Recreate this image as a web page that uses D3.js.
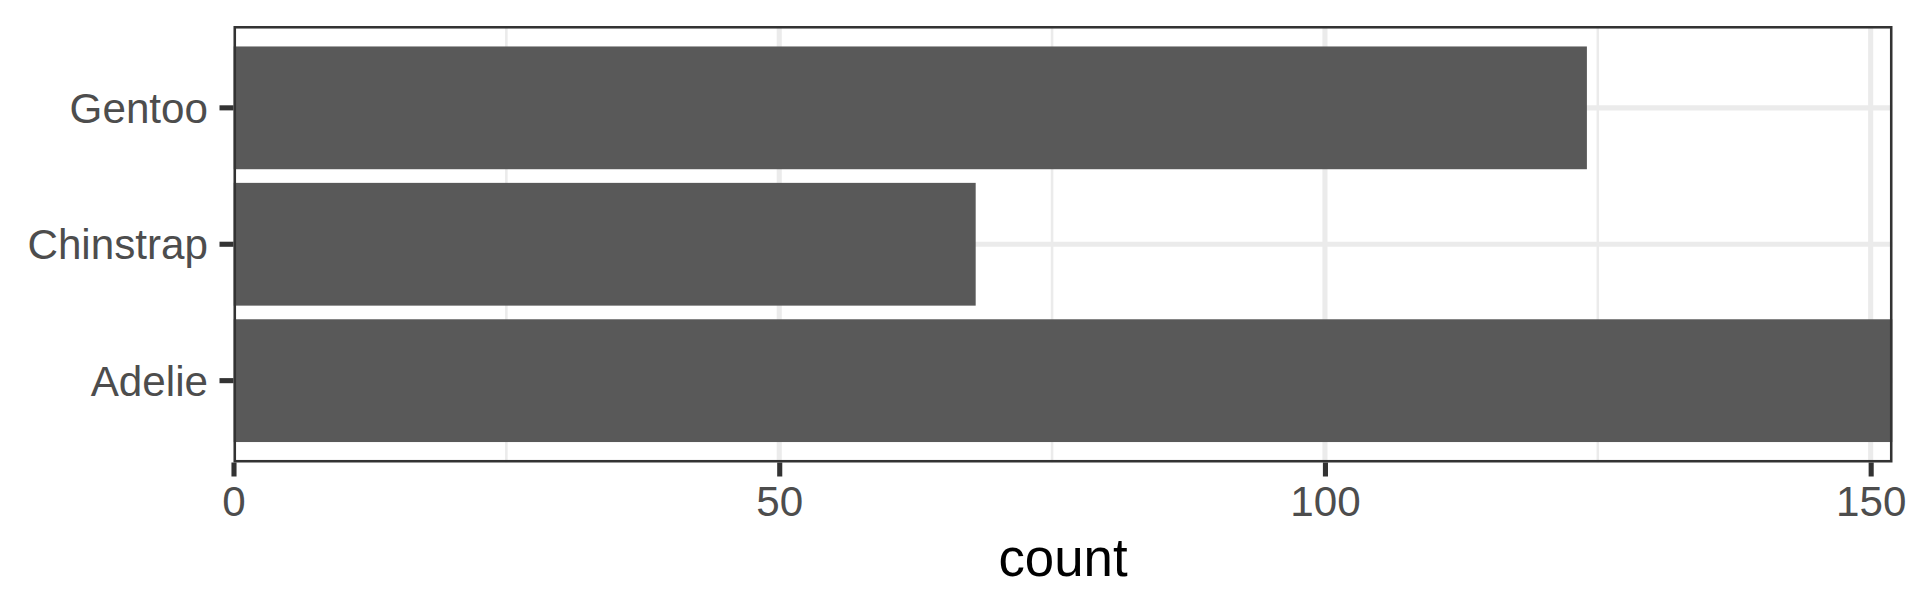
<!DOCTYPE html>
<html>
<head>
<meta charset="utf-8">
<script src="https://cdn.jsdelivr.net/npm/d3@7"></script>
<style>
  html, body { margin: 0; padding: 0; background: #fff; }
  svg { display: block; font-family: "Liberation Sans", Arial, sans-serif; }
</style>
</head>
<body>
<svg id="chart" width="1920" height="614"></svg>
<script>
const species = ["Adelie", "Chinstrap", "Gentoo"];
const counts = [152, 68, 124];
const majorTicks = [0, 50, 100, 150];
const minorTicks = [25, 75, 125];
const xTitle = "count";

const W = 1920, H = 614;
const panel = { left: 233.5, right: 1892.5, top: 26, bottom: 462.5 };
const lw = 5.1;

const svg = d3.select("#chart");
svg.append("rect").attr("width", W).attr("height", H).attr("fill", "#fff");

const x = d3.scaleLinear().domain([0, 152]).range([panel.left, panel.right]);
const y = d3.scaleBand().domain(species).range([panel.bottom, panel.top])
  .paddingInner(0.1).paddingOuter(0.15);

const data = species.map((s, i) => ({ s, v: counts[i] }));

svg.append("defs").append("clipPath").attr("id", "pclip")
  .append("rect").attr("x", panel.left).attr("y", panel.top)
  .attr("width", panel.right - panel.left).attr("height", panel.bottom - panel.top);

const g = svg.append("g").attr("clip-path", "url(#pclip)");
g.append("rect").attr("x", panel.left).attr("y", panel.top)
  .attr("width", panel.right - panel.left).attr("height", panel.bottom - panel.top)
  .attr("fill", "#fff");

// minor vertical grid
g.selectAll(".minor").data(minorTicks).enter().append("line")
  .attr("x1", d => x(d)).attr("x2", d => x(d))
  .attr("y1", panel.top).attr("y2", panel.bottom)
  .attr("stroke", "#EBEBEB").attr("stroke-width", lw / 2);
// major vertical grid
g.selectAll(".majorx").data(majorTicks).enter().append("line")
  .attr("x1", d => x(d)).attr("x2", d => x(d))
  .attr("y1", panel.top).attr("y2", panel.bottom)
  .attr("stroke", "#EBEBEB").attr("stroke-width", lw);
// major horizontal grid
g.selectAll(".majory").data(species).enter().append("line")
  .attr("x1", panel.left).attr("x2", panel.right)
  .attr("y1", d => y(d) + y.bandwidth() / 2).attr("y2", d => y(d) + y.bandwidth() / 2)
  .attr("stroke", "#EBEBEB").attr("stroke-width", lw);

// bars
g.selectAll(".bar").data(data).enter().append("rect")
  .attr("x", x(0)).attr("y", d => y(d.s))
  .attr("width", d => x(d.v) - x(0)).attr("height", y.bandwidth())
  .attr("fill", "#595959");

// panel border (half clipped)
g.append("rect").attr("x", panel.left).attr("y", panel.top)
  .attr("width", panel.right - panel.left).attr("height", panel.bottom - panel.top)
  .attr("fill", "none").attr("stroke", "#333333").attr("stroke-width", lw);

// y axis
const yAxis = d3.axisLeft(y).tickSize(14).tickPadding(11.5);
const ya = svg.append("g").attr("transform", `translate(${panel.left},0)`).call(yAxis);
ya.select(".domain").remove();
ya.selectAll(".tick line").attr("stroke", "#333333").attr("stroke-width", lw);
ya.selectAll(".tick text").attr("fill", "#4D4D4D").attr("font-size", 42.2)
  .attr("font-family", "Liberation Sans, Arial, sans-serif")
  .attr("dy", null).attr("dominant-baseline", "auto").attr("y", 15);

// x axis
const xAxis = d3.axisBottom(x).tickValues(majorTicks).tickSize(14).tickPadding(10);
const xa = svg.append("g").attr("transform", `translate(0,${panel.bottom})`).call(xAxis);
xa.select(".domain").remove();
xa.selectAll(".tick line").attr("stroke", "#333333").attr("stroke-width", lw);
xa.selectAll(".tick text").attr("fill", "#4D4D4D").attr("font-size", 42.2)
  .attr("font-family", "Liberation Sans, Arial, sans-serif")
  .attr("dy", null).attr("y", 53.5);

// x title
svg.append("text").attr("x", (panel.left + panel.right) / 2).attr("y", 575.7)
  .attr("text-anchor", "middle").attr("font-size", 52.8).attr("fill", "#000")
  .text(xTitle);
</script>
</body>
</html>
